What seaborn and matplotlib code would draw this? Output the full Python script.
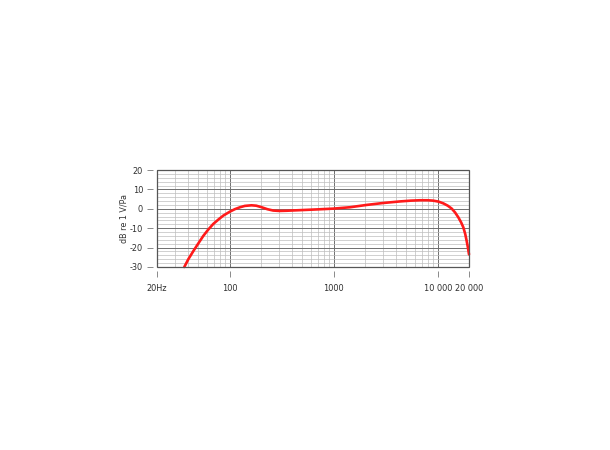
import matplotlib
matplotlib.use("Agg")
import matplotlib.pyplot as plt
import matplotlib.ticker as mticker
from matplotlib.patches import Rectangle
import seaborn as sns
import pandas as pd

sns.set_theme(style="white")
plt.rcParams['font.family'] = ['DejaVu Sans']

freq_hz = [36.6, 40, 44.7, 50, 55.7, 62, 69.5, 78, 86.8, 101, 112, 125.6, 140, 162, 180,
           203, 230, 262, 300, 353, 474, 700, 1000, 1435, 2077, 3000, 4343, 5500,
           6760, 8000, 9070, 10200, 11330, 12500, 13640, 14700, 15790, 16800, 17650,
           18400, 19000, 19500, 20000]
level_db = [-30, -26, -21.8, -17.8, -14, -10.8, -7.8, -5.5, -3.5, -1.4, -0.2, 0.8, 1.5, 1.8, 1.6,
            0.8, -0.2, -0.9, -1.1, -1.0, -0.7, -0.3, 0.1, 0.8, 2.0, 3.0, 3.8, 4.2,
            4.4, 4.4, 4.2, 3.7, 2.8, 1.6, 0.1, -1.9, -4.4, -7.0, -9.6, -13.0, -16.6, -19.8, -23.5]

x_ticks = [20, 100, 1000, 10000, 20000]
x_tick_labels = ["20Hz", "100", "1000", "10 000", "20 000"]
y_ticks = [-30, -20, -10, 0, 10, 20]

df = pd.DataFrame({"freq": freq_hz, "db": level_db})

fig = plt.figure(figsize=(6.1, 4.5), dpi=100)
ax = fig.add_axes([157/610, 1-267/450, (469-157)/610, (267-170)/450])

ax.set_xscale("log")
ax.set_xlim(20, 20000)
ax.set_ylim(-30, 20)

# grid
ax.xaxis.set_minor_locator(mticker.LogLocator(base=10, subs=range(2, 10), numticks=20))
ax.yaxis.set_minor_locator(mticker.MultipleLocator(2))
ax.grid(which="minor", color="#bdbdbd", linewidth=0.5)
ax.grid(which="major", color="#6e6e6e", linewidth=0.7)
ax.set_axisbelow(True)

sns.lineplot(data=df, x="freq", y="db", ax=ax, color="#ff1a1a", linewidth=1.9,
             estimator=None, sort=True, clip_on=False)

ax.set_xticks(x_ticks)
ax.set_xticklabels(x_tick_labels)
ax.set_yticks(y_ticks)
ax.set_yticklabels([str(v) for v in y_ticks])
ax.tick_params(which="minor", length=0, bottom=False, left=False)
ax.tick_params(which="major", bottom=True, left=True, direction="out", length=4,
               width=0.6, color="#777777", labelsize=5.9, labelcolor="#2e2e2e")
ax.tick_params(axis="x", which="major", pad=5)
ax.tick_params(axis="y", which="major", pad=3)

for side in ["left", "bottom"]:
    ax.spines[side].set_position(("outward", 3))
    ax.spines[side].set_visible(True)
    ax.spines[side].set_color("none")
for side in ["top", "right"]:
    ax.spines[side].set_visible(False)
ax.add_patch(Rectangle((0, 0), 1, 1, transform=ax.transAxes, fill=False,
                       edgecolor="#555555", linewidth=0.9, zorder=5, clip_on=False))

ax.set_xlabel("")
ax.set_ylabel("dB re 1 V/Pa", fontsize=5.8, color="#333333")
ax.yaxis.set_label_coords(-0.092, 0.5)

fig.savefig("out.png", dpi=100, facecolor="white")
